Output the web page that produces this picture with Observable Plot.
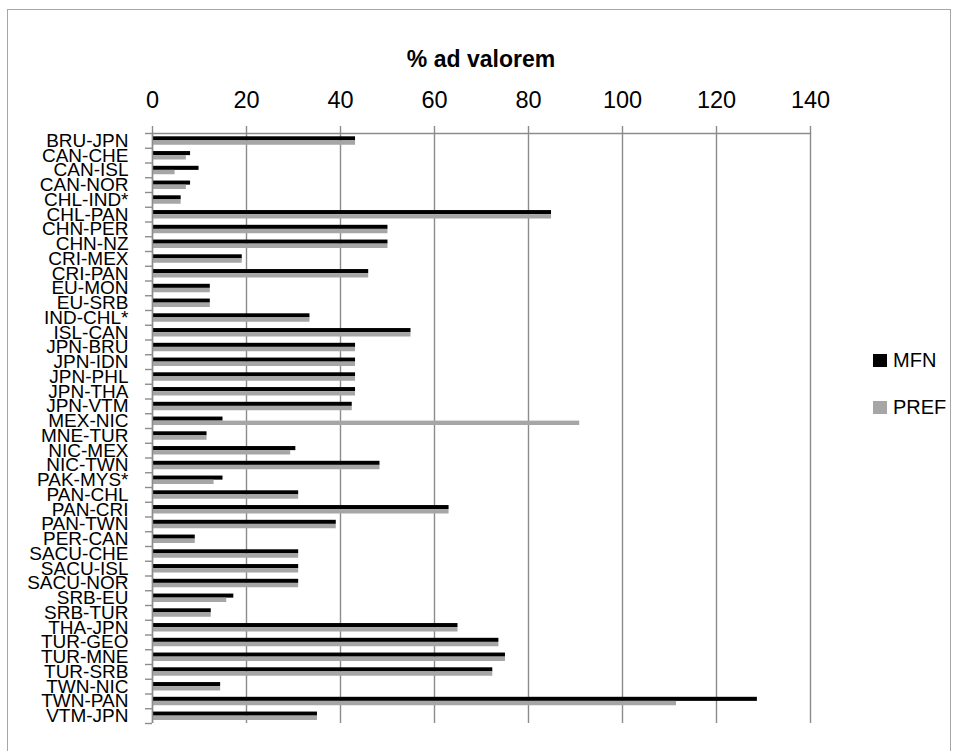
<!DOCTYPE html>
<html><head><meta charset="utf-8">
<script src="https://cdn.jsdelivr.net/npm/d3@7"></script>
<script src="https://cdn.jsdelivr.net/npm/@observablehq/plot@0.6"></script>
<style>
body{margin:0;background:#fff;}
#wrap{position:relative;width:959px;height:751px;overflow:hidden;font-family:"Liberation Sans",Arial,sans-serif;}
#border{position:absolute;left:7px;top:9px;width:944px;height:800px;border:1px solid #a6a6a6;box-sizing:border-box;}
#title{position:absolute;left:152px;width:658px;top:45px;text-align:center;font-weight:bold;font-size:23px;line-height:28px;color:#000;}
.leg{position:absolute;left:873px;font-size:20px;line-height:24px;display:flex;align-items:center;color:#000;}
.sw{width:14px;height:13px;margin-right:6px;}
#chart svg{position:absolute;left:0;top:0;}
g[aria-label="x-axis tick label"]{font-size:23.5px;}
g[aria-label="y-axis tick label"]{font-size:19px;}
</style>
</head><body>
<div id="wrap">
  <div id="border"></div>
  <div id="chart"></div>
  <div id="title">% ad valorem</div>
  <div class="leg" style="top:348px"><div class="sw" style="background:#000"></div>MFN</div>
  <div class="leg" style="top:395px"><div class="sw" style="background:#a6a6a6"></div>PREF</div>
</div>
<script>
const categories = ["BRU-JPN","CAN-CHE","CAN-ISL","CAN-NOR","CHL-IND*","CHL-PAN","CHN-PER","CHN-NZ","CRI-MEX","CRI-PAN","EU-MON","EU-SRB","IND-CHL*","ISL-CAN","JPN-BRU","JPN-IDN","JPN-PHL","JPN-THA","JPN-VTM","MEX-NIC","MNE-TUR","NIC-MEX","NIC-TWN","PAK-MYS*","PAN-CHL","PAN-CRI","PAN-TWN","PER-CAN","SACU-CHE","SACU-ISL","SACU-NOR","SRB-EU","SRB-TUR","THA-JPN","TUR-GEO","TUR-MNE","TUR-SRB","TWN-NIC","TWN-PAN","VTM-JPN"];
const mfn  = [43.2,8.1,9.9,8.1,6.1,84.9,50.1,50.1,19.1,46.0,12.3,12.3,33.5,55.0,43.2,43.2,43.2,43.2,42.5,15.0,11.6,30.5,48.4,15.0,31.1,63.1,39.1,9.1,31.1,31.1,31.1,17.3,12.5,65.0,73.7,75.1,72.4,14.5,128.7,35.1];
const pref = [43.2,7.2,4.8,7.2,6.1,84.9,50.1,50.1,19.1,46.0,12.3,12.3,33.5,55.0,43.2,43.2,43.2,43.2,42.5,90.9,11.6,29.4,48.4,13.1,31.1,63.1,39.1,9.1,31.1,31.1,31.1,15.8,12.5,65.0,73.7,75.1,72.4,14.5,111.5,35.1];
const xTicks = [0,20,40,60,80,100,120,140];
const seriesNames = ["MFN","PREF"];

const data = categories.map((c,i)=>({cat:c, mfn:mfn[i], pref:pref[i]}));

const W = 959, H = 751, mL = 152, mR = 149, mT = 133, mB = 28;
const bw = (H - mT - mB) / categories.length;
const pxPerUnit = (W - mL - mR) / (xTicks[xTicks.length-1] - xTicks[0]);
const tickLen = 7 / pxPerUnit;
const gray = "#8c8c8c";

const plot = Plot.plot({
  width: W, height: H,
  marginLeft: mL, marginRight: mR, marginTop: mT, marginBottom: mB,
  style: {fontFamily: '"Liberation Sans", Arial, sans-serif', color: "#000", background: "transparent"},
  x: {domain: [0, 140]},
  y: {domain: categories, padding: 0, round: false},
  marks: [
    Plot.gridX(xTicks, {stroke: gray, strokeOpacity: 1, strokeWidth: 1.4}),
    Plot.barX(data, {y: "cat", x: "mfn", fill: "#000", insetTop: 3.3, insetBottom: bw/2}),
    Plot.barX(data, {y: "cat", x: "pref", fill: "#a6a6a6", insetTop: bw/2, insetBottom: 3.0}),
    Plot.ruleX([0], {stroke: gray, strokeWidth: 1.4}),
    Plot.ruleY([categories[0]], {dy: -bw/2, x1: 0, x2: 140, stroke: gray, strokeWidth: 1.4}),
    Plot.ruleY(categories, {dy: -bw/2, x1: -tickLen, x2: 0, stroke: gray, strokeWidth: 1.4}),
    Plot.ruleY([categories[categories.length-1]], {dy: bw/2, x1: -tickLen, x2: 0, stroke: gray, strokeWidth: 1.4}),
    Plot.axisX({anchor: "top", ticks: xTicks, tickSize: 8, tickPadding: 18, stroke: gray, strokeWidth: 1.4, label: null, tickFormat: d => String(d)}),
    Plot.axisY({anchor: "left", tickSize: 0, tickPadding: 24, label: null})
  ]
});
document.getElementById("chart").appendChild(plot);
</script>
</body></html>
